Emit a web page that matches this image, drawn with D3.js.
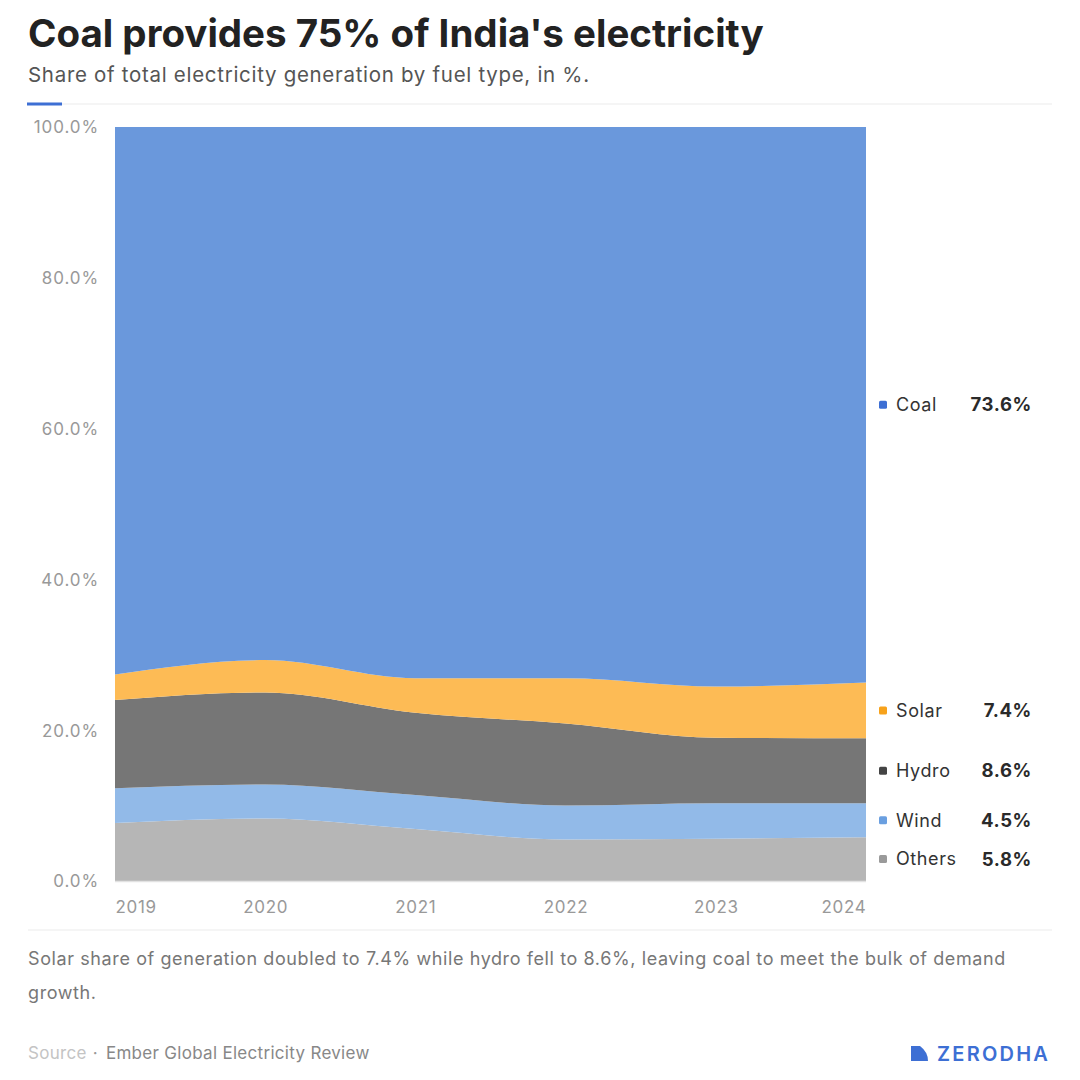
<!DOCTYPE html>
<html lang="en">
<head>
<meta charset="UTF-8">
<title>Coal provides 75% of India's electricity</title>
<script src="https://d3js.org/d3.v7.min.js"></script>
<style>
  html, body { margin: 0; padding: 0; background: #fff; }
  body { width: 1080px; height: 1080px; font-family: Inter, "Noto Sans", sans-serif; }
  svg text { font-family: Inter, "Noto Sans", sans-serif; }
</style>
</head>
<body>
<div id="chart"></div>
<script>
// data (share of generation, %)
const years = [2019, 2020, 2021, 2022, 2023, 2024];
const fuels = ["Others", "Wind", "Hydro", "Solar", "Coal"]; // bottom to top
const others = [7.7, 8.3, 6.9, 5.5, 5.6, 5.8];
const wind   = [4.6, 4.5, 4.5, 4.5, 4.7, 4.5];
const hydro  = [11.7, 12.2, 10.9, 10.9, 8.7, 8.6];
const solar  = [3.4, 4.3, 4.6, 6.0, 6.8, 7.4];
const coal   = [72.6, 70.7, 73.1, 73.1, 74.2, 73.6];
const yTicks = [0, 20, 40, 60, 80, 100];

const areaColors = { Coal: "#6a98dc", Solar: "#fdbb55", Hydro: "#767676", Wind: "#92bae8", Others: "#b6b6b6" };
const swatchColors = { Coal: "#3d6fd4", Solar: "#f7a21b", Hydro: "#444444", Wind: "#6a9fe0", Others: "#9a9a9a" };

const rows = years.map((yr, i) => ({
  year: yr, Others: others[i], Wind: wind[i], Hydro: hydro[i], Solar: solar[i], Coal: coal[i]
}));

const W = 1080, H = 1080;
const plot = { left: 115, right: 866, top: 127, bottom: 881 };

const svg = d3.select("#chart").append("svg")
  .attr("width", W).attr("height", H);

// header
svg.append("text").attr("x", 28).attr("y", 47)
  .attr("font-size", 38.5).attr("font-weight", 700).attr("fill", "#222")
  .text("Coal provides 75% of India's electricity");
svg.append("text").attr("x", 28).attr("y", 82)
  .attr("font-size", 20.5).attr("fill", "#555").attr("letter-spacing", "0.7")
  .text("Share of total electricity generation by fuel type, in %.");
svg.append("line").attr("x1", 28).attr("x2", 1052).attr("y1", 104).attr("y2", 104)
  .attr("stroke", "#ebebeb").attr("stroke-width", 1);
svg.append("line").attr("x1", 27).attr("x2", 62).attr("y1", 104).attr("y2", 104)
  .attr("stroke", "#3d6fd4").attr("stroke-width", 3);

const x = d3.scaleLinear().domain(d3.extent(years)).range([plot.left, plot.right]);
const y = d3.scaleLinear().domain([0, 1]).range([plot.bottom, plot.top]);

const stack = d3.stack().keys(fuels).offset(d3.stackOffsetExpand);
const series = stack(rows);

const area = d3.area()
  .x(d => x(d.data.year))
  .y0(d => y(d[0]))
  .y1(d => y(d[1]))
  .curve(d3.curveMonotoneX);

svg.append("g").selectAll("path")
  .data(series)
  .join("path")
  .attr("d", area)
  .attr("fill", d => areaColors[d.key]);

// baseline
svg.append("line").attr("x1", plot.left).attr("x2", plot.right)
  .attr("y1", plot.bottom + 0.5).attr("y2", plot.bottom + 0.5)
  .attr("stroke", "#e2e2e2").attr("stroke-width", 1.5);

// y axis labels
const yAxis = svg.append("g")
  .attr("transform", `translate(${plot.left - 16},0)`)
  .call(d3.axisLeft(y).tickValues(yTicks.map(v => v / 100))
    .tickFormat(v => (v * 100).toFixed(1) + "%").tickSize(0));
yAxis.select(".domain").remove();
yAxis.selectAll("text").attr("font-size", 17).attr("fill", "#999").attr("dy", "0.35em")
  .attr("x", 0).attr("letter-spacing", "0.9");

// x axis labels
const xAxis = svg.append("g")
  .attr("transform", `translate(0,${plot.bottom})`)
  .call(d3.axisBottom(x).tickValues(years).tickFormat(d3.format("d")).tickSize(0));
xAxis.select(".domain").remove();
xAxis.selectAll("text").attr("font-size", 17).attr("fill", "#999").attr("y", 32).attr("dy", 0)
  .attr("letter-spacing", "0.7")
  .attr("text-anchor", (d, i) => i === 0 ? "start" : i === years.length - 1 ? "end" : "middle");

// legend at the 2024 band centres
const last = series.map(s => ({ key: s.key, lo: s[s.length - 1][0], hi: s[s.length - 1][1], val: rows[rows.length - 1][s.key] }));
const legend = svg.append("g").selectAll("g")
  .data(last)
  .join("g")
  .attr("transform", d => `translate(0,${y((d.lo + d.hi) / 2)})`);
legend.append("rect").attr("x", 879).attr("y", -4).attr("width", 8).attr("height", 8).attr("rx", 1.5)
  .attr("fill", d => swatchColors[d.key]);
legend.append("text").attr("x", 896).attr("dy", "0.35em")
  .attr("font-size", 18).attr("fill", "#333").attr("letter-spacing", "0.6").text(d => d.key);
legend.append("text").attr("x", 1032).attr("dy", "0.35em").attr("text-anchor", "end")
  .attr("font-size", 18.5).attr("font-weight", 700).attr("fill", "#2a2a2a").attr("letter-spacing", "0.6")
  .text(d => d.val.toFixed(1) + "%");

// footer
svg.append("line").attr("x1", 28).attr("x2", 1052).attr("y1", 930).attr("y2", 930)
  .attr("stroke", "#ebebeb").attr("stroke-width", 1);
const note = svg.append("text").attr("font-size", 18).attr("fill", "#777").attr("letter-spacing", "0.6");
note.append("tspan").attr("x", 28).attr("y", 965)
  .text("Solar share of generation doubled to 7.4% while hydro fell to 8.6%, leaving coal to meet the bulk of demand");
note.append("tspan").attr("x", 28).attr("y", 999).text("growth.");

const src = svg.append("text").attr("x", 28).attr("y", 1059).attr("font-size", 17).attr("letter-spacing", "0.3");
src.append("tspan").attr("fill", "#c4c4c4").text("Source");
src.append("tspan").attr("fill", "#999").attr("dx", 6).text("\u00b7");
src.append("tspan").attr("fill", "#888").attr("dx", 8).text("Ember Global Electricity Review");

// zerodha mark
svg.append("path")
  .attr("d", "M911,1046 L920,1046 Q928,1052 928,1061 L911,1061 Z")
  .attr("fill", "#3d6fd4");
svg.append("text").attr("x", 1050).attr("y", 1061).attr("text-anchor", "end")
  .attr("font-size", 20).attr("font-weight", 600).attr("fill", "#3d6fd4").attr("letter-spacing", "2.2")
  .text("ZERODHA");
</script>
</body>
</html>
